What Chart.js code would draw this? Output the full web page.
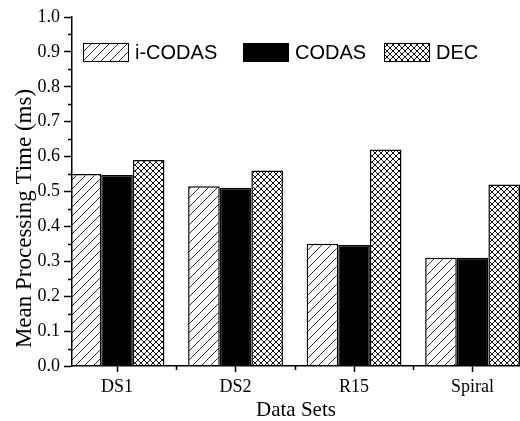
<!DOCTYPE html>
<html>
<head>
<meta charset="utf-8">
<script src="https://cdn.jsdelivr.net/npm/chart.js@4"></script>
<style>
  html, body { margin: 0; padding: 0; background: #fff; }
  #wrap { width: 520px; height: 421px; }
</style>
</head>
<body>
<div id="wrap"><canvas id="chart" width="520" height="421"></canvas></div>
<script>
// ─── Data ──────────────────────────────────────────
const categories = ['DS1', 'DS2', 'R15', 'Spiral'];
const seriesNames = ['i-CODAS', 'CODAS', 'DEC'];
const icodas = [0.55, 0.515, 0.35, 0.31];
const codas = [0.547, 0.511, 0.347, 0.31];
const dec = [0.59, 0.56, 0.62, 0.52];
const yTicks = [0, 0.1, 0.2, 0.3, 0.4, 0.5, 0.6, 0.7, 0.8, 0.9, 1.0];
const xTitle = 'Data Sets';
const yTitle = 'Mean Processing Time (ms)';

const SERIF = '"Liberation Serif", "Times New Roman", serif';
const SANS = '"Liberation Sans", Arial, sans-serif';

// ─── Patterns ──────────────────────────────────────

function hatchPattern() {
  const c = document.createElement('canvas');
  c.width = 9; c.height = 9;
  const g = c.getContext('2d');
  g.fillStyle = '#fff';
  g.fillRect(0, 0, 9, 9);
  g.strokeStyle = '#333';
  g.lineWidth = 1;
  g.beginPath();
  g.moveTo(0, 9); g.lineTo(9, 0);
  g.moveTo(-1, 1); g.lineTo(1, -1);
  g.moveTo(8, 10); g.lineTo(10, 8);
  g.stroke();
  return g.createPattern(c, 'repeat');
}

function crossPattern() {
  const c = document.createElement('canvas');
  c.width = 6; c.height = 6;
  const g = c.getContext('2d');
  g.fillStyle = '#fff';
  g.fillRect(0, 0, 6, 6);
  g.strokeStyle = '#111';
  g.lineWidth = 1;
  g.beginPath();
  g.moveTo(0, 0); g.lineTo(6, 6);
  g.moveTo(0, 6); g.lineTo(6, 0);
  g.stroke();
  return g.createPattern(c, 'repeat');
}

const fills = [hatchPattern(), '#000', crossPattern()];

function toPoints(values) {
  return values.map((v, i) => ({ x: i + 1, y: v }));
}

// ─── Overlay: legend, y title, minor ticks ─────────

const overlay = {
  id: 'overlay',
  afterDraw(chart) {
    const { ctx, chartArea } = chart;
    const yScale = chart.scales.y;
    const xScale = chart.scales.x;

    ctx.save();
    ctx.strokeStyle = '#000';
    ctx.lineWidth = 1.5;
    // minor ticks on y
    for (let i = 0; i < yTicks.length - 1; i++) {
      const y = Math.round(yScale.getPixelForValue((yTicks[i] + yTicks[i + 1]) / 2)) + 0.5;
      ctx.beginPath();
      ctx.moveTo(chartArea.left - 4, y);
      ctx.lineTo(chartArea.left, y);
      ctx.stroke();
    }
    // group boundary ticks on x
    for (let i = 1; i < categories.length; i++) {
      const x = Math.round(xScale.getPixelForValue(i + 0.5)) + 0.5;
      ctx.beginPath();
      ctx.moveTo(x, chartArea.bottom);
      ctx.lineTo(x, chartArea.bottom + 4);
      ctx.stroke();
    }
    ctx.restore();

    // y axis title
    ctx.save();
    ctx.translate(chartArea.left - 47, (chartArea.top + chartArea.bottom) / 2 + 27);
    ctx.rotate(-Math.PI / 2);
    ctx.font = '23px ' + SERIF;
    ctx.fillStyle = '#000';
    ctx.textAlign = 'center';
    ctx.textBaseline = 'middle';
    ctx.fillText(yTitle, 0, 0);
    ctx.restore();

    // legend
    const boxX = [83, 243, 384];
    const cy = 52;
    ctx.save();
    ctx.font = '20px ' + SANS;
    ctx.textBaseline = 'middle';
    ctx.textAlign = 'left';
    chart.data.datasets.forEach((ds, i) => {
      ctx.fillStyle = ds.backgroundColor;
      ctx.fillRect(boxX[i], cy - 9, 45, 18);
      ctx.strokeStyle = '#000';
      ctx.lineWidth = 1;
      ctx.strokeRect(boxX[i] + 0.5, cy - 9 + 0.5, 45, 18);
      ctx.fillStyle = '#000';
      ctx.fillText(ds.label, boxX[i] + 52, cy + 1);
    });
    ctx.restore();
  },
};

// ─── Chart ─────────────────────────────────────────

new Chart(document.getElementById('chart'), {
  type: 'bar',
  data: {
    datasets: [icodas, codas, dec].map((values, i) => ({
      label: seriesNames[i],
      data: toPoints(values),
      backgroundColor: fills[i],
      borderColor: '#000',
      borderWidth: 1.5,
      categoryPercentage: 0.8,
      barPercentage: 1.0,
    })),
  },
  options: {
    responsive: false,
    devicePixelRatio: 1,
    animation: false,
    layout: { padding: { top: 17, right: 0, left: 0, bottom: 0 } },
    plugins: {
      legend: { display: false },
      tooltip: { enabled: false },
    },
    scales: {
      x: {
        type: 'linear',
        offset: false,
        min: 0.62,
        max: 4.4,
        afterBuildTicks: (scale) => {
          scale.ticks = categories.map((c, i) => ({ value: i + 1 }));
        },
        afterFit: (scale) => { scale.height = 55; },
        ticks: {
          autoSkip: false,
          maxRotation: 0,
          padding: 4,
          color: '#000',
          font: { family: SERIF, size: 18 },
          callback: (v) => categories[Math.round(v) - 1],
        },
        grid: {
          offset: false,
          drawOnChartArea: false,
          drawTicks: true,
          tickLength: 6,
          tickWidth: 1.5,
          tickColor: '#000',
        },
        border: { display: true, color: '#000', width: 1.5, z: 1 },
        title: {
          display: true,
          text: xTitle,
          color: '#000',
          font: { family: SERIF, size: 21 },
          padding: { top: 0, bottom: -2 },
        },
      },
      y: {
        min: 0,
        max: 1,
        afterBuildTicks: (scale) => {
          scale.ticks = yTicks.map((v) => ({ value: v }));
        },
        afterFit: (scale) => { scale.width = 72; },
        ticks: {
          padding: 4,
          color: '#000',
          font: { family: SERIF, size: 18 },
          callback: (v) => v.toFixed(1),
        },
        grid: {
          drawOnChartArea: false,
          drawTicks: true,
          tickLength: 8,
          tickWidth: 1.5,
          tickColor: '#000',
        },
        border: { display: true, color: '#000', width: 1.5, z: 1 },
      },
    },
  },
  plugins: [overlay],
});
</script>
</body>
</html>
